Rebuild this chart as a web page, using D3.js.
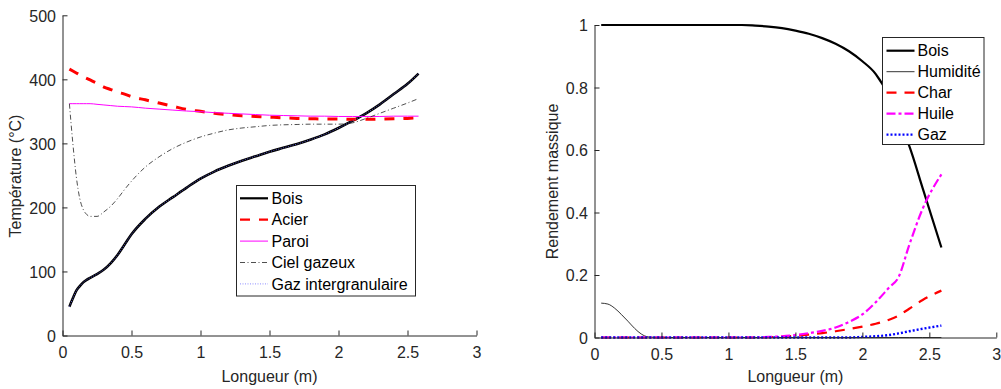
<!DOCTYPE html>
<html><head><meta charset="utf-8">
<script src="https://cdn.jsdelivr.net/npm/d3@7"></script>
<style>
body{margin:0;background:#fff}
svg{display:block}
text{font-family:"Liberation Sans",Arial,sans-serif}
</style>
</head><body>
<svg id="c" width="1001" height="389"></svg>
<script>
// ---------- Left chart data: Température (°C) vs Longueur (m)
const longueurL = [0.05,0.075,0.1,0.125,0.15,0.175,0.2,0.25,0.3,0.35,0.4,0.45,0.5,0.6,0.7,0.8,0.9,1.0,1.1,1.2,1.3,1.4,1.5,1.6,1.7,1.8,1.9,2.0,2.1,2.2,2.3,2.4,2.5,2.58];
const boisT  = [45,58,70,77,83,87,90,96,103,113,126,142,158,182,201,216,231,245,256,265,273,280,287,293,299,306,314,324,335,347,361,377,393,409];
const acierT = [416,413,410,407,404,401.5,399,394,388,384,380,377,373,368,363,358,353,350,347,345,343,342,341,340,339,338.5,338,338,337.5,337.5,338,338.5,339,340];
const paroiT = [362,362,362,362,362,362,362,361,360,359,358,357.5,357,355,353.5,352,350.5,349.5,348,347,346,345,344,343.5,343,342.5,342.5,342,342,342,342,342.5,342.5,342.5];
const cielT  = [362,300,248,214,197,189,186,186,193,202,214,228,241,263,279,292,302,310,316,321,324,326,328,329,329.5,330,330,330,332,339,347,355,363,370];
const gazIntT = [45,58,70,77,83,87,90,96,103,113,126,142,158,182,201,216,231,245,256,265,273,280,287,293,299,306,314,324,335,347,361,377,393,409];
const ticksXL = [0,0.5,1,1.5,2,2.5,3];
const ticksYL = [0,100,200,300,400,500];
const namesL = ["Bois","Acier","Paroi","Ciel gazeux","Gaz intergranulaire"];

// ---------- Right chart data: Rendement massique vs Longueur (m)
const longueurR = [0.05,0.1,0.15,0.2,0.25,0.3,0.35,0.4,0.5,0.6,0.7,0.8,0.9,1.0,1.1,1.2,1.3,1.4,1.5,1.6,1.7,1.8,1.9,2.0,2.1,2.2,2.27,2.35,2.45,2.59];
const boisR  = [1,1,1,1,1,1,1,1,1,1,1,1,1,1,1,0.998,0.995,0.99,0.982,0.972,0.958,0.94,0.916,0.884,0.843,0.77,0.695,0.613,0.478,0.288];
const humR   = [0.11,0.107,0.094,0.074,0.052,0.029,0.011,0.002,0,0,0,0,0,0,0,0,0,0,0,0,0,0,0,0,0,0,0,0,0,0];
const charR  = [0,0,0,0,0,0,0,0,0,0,0,0,0,0,0,0,0.001,0.003,0.005,0.009,0.014,0.02,0.027,0.035,0.044,0.057,0.07,0.092,0.12,0.15];
const huileR = [0,0,0,0,0,0,0,0,0,0,0,0,0,0,0,0,0.002,0.004,0.008,0.014,0.021,0.032,0.05,0.074,0.113,0.16,0.193,0.296,0.412,0.522];
const gazR   = [0,0,0,0,0,0,0,0,0,0,0,0,0,0,0,0,0,0,0,0,0,0,0,0.002,0.004,0.008,0.013,0.02,0.028,0.038];
const ticksXR = [0,0.5,1,1.5,2,2.5,3];
const ticksYR = [0,0.2,0.4,0.6,0.8,1];
const namesR = ["Bois","Humidité","Char","Huile","Gaz"];

const svg = d3.select("#c");
const AX = "#262626";
const FS = 16;

function drawPanel(o){
  const g = svg.append("g");
  const x = d3.scaleLinear().domain([0,3]).range(o.xr);
  const y = d3.scaleLinear().domain(o.yd).range(o.yr);

  // series
  const line = d3.line().x(d=>x(d[0])).y(d=>y(d[1])).curve(d3.curveMonotoneX);
  o.series.forEach(s=>{
    g.append("path")
      .datum(o.xs.map((v,i)=>[v,s.values[i]]))
      .attr("d", line)
      .attr("fill","none")
      .attr("stroke", s.color)
      .attr("stroke-width", s.w)
      .attr("stroke-dasharray", s.dash || null)
      .attr("stroke-linejoin","round");
  });

  // axes
  const xa = d3.axisBottom(x).tickValues(o.tx).tickSizeInner(-5).tickSizeOuter(0).tickPadding(11).tickFormat(d3.format("~g"));
  const ya = d3.axisLeft(y).tickValues(o.ty).tickSizeInner(-5).tickSizeOuter(0).tickPadding(6.5).tickFormat(d3.format("~g"));
  const gx = g.append("g").attr("transform",`translate(0,${o.yr[0]})`).call(xa);
  const gy = g.append("g").attr("transform",`translate(${o.xr[0]},0)`).call(ya);
  [gx,gy].forEach(a=>{
    a.selectAll("path,line").attr("stroke",AX).attr("stroke-width",1);
    a.selectAll("text").attr("fill",AX).style("font-size",FS+"px").style("font-family",'"Liberation Sans",Arial,sans-serif');
  });
  gy.selectAll("text").attr("dy","0.36em");

  // axis labels
  g.append("text").attr("x",(o.xr[0]+o.xr[1])/2).attr("y",382).attr("text-anchor","middle")
    .attr("fill",AX).style("font-size",FS+"px").text("Longueur (m)");
  g.append("text").attr("transform",`translate(${o.ylx},${o.yly}) rotate(-90)`).attr("text-anchor","middle")
    .attr("fill",AX).style("font-size",FS+"px").text(o.ylabel);

  // legend
  const L = o.legend;
  g.append("rect").attr("x",L.x0).attr("y",L.y0).attr("width",L.x1-L.x0).attr("height",L.y1-L.y0)
    .attr("fill","#fff").attr("stroke",AX).attr("stroke-width",1);
  o.series.forEach((s,i)=>{
    const ry = L.r0 + i*L.dr;
    g.append("line").attr("x1",L.lx0).attr("x2",L.lx1).attr("y1",ry).attr("y2",ry)
      .attr("stroke",s.color).attr("stroke-width",Math.min(s.w,2.2)).attr("stroke-dasharray",s.dash||null);
    g.append("text").attr("x",L.tx).attr("y",ry).attr("dy","0.36em").attr("fill","#000")
      .style("font-size",FS+"px").text(s.name);
  });
}

drawPanel({
  xr:[62.5,476.5], yd:[0,500], yr:[335.5,15.3], xs:longueurL, tx:ticksXL, ty:ticksYL,
  ylabel:"Température (°C)", ylx:21, yly:176,
  series:[
    {name:namesL[0], values:boisT, color:"#000", w:2.6},
    {name:namesL[1], values:acierT, color:"#ff0000", w:3, dash:"10,9"},
    {name:namesL[2], values:paroiT, color:"#ff00ff", w:1},
    {name:namesL[3], values:cielT, color:"#222", w:0.8, dash:"5,2.5,1,2.5"},
    {name:namesL[4], values:gazIntT, color:"#7070ff", w:0.8, dash:"1,1.5"}
  ],
  legend:{x0:236.5,x1:415.5,y0:185.5,y1:296,lx0:240,lx1:268,tx:271.5,r0:198.3,dr:21.4}
});

drawPanel({
  xr:[594.5,996.3], yd:[0,1], yr:[337.5,25], xs:longueurR, tx:ticksXR, ty:ticksYR,
  ylabel:"Rendement massique", ylx:558, yly:181.5,
  series:[
    {name:namesR[0], values:boisR, color:"#000", w:2.2},
    {name:namesR[1], values:humR, color:"#000", w:0.8},
    {name:namesR[2], values:charR, color:"#ff0000", w:2.2, dash:"10,8"},
    {name:namesR[3], values:huileR, color:"#ff00ff", w:2.2, dash:"9,3,3,3"},
    {name:namesR[4], values:gazR, color:"#0000ff", w:2.4, dash:"2,2"}
  ],
  legend:{x0:882.5,x1:984,y0:37.5,y1:144.5,lx0:886.5,lx1:914.5,tx:917.5,r0:50.7,dr:21}
});
</script>
</body></html>
